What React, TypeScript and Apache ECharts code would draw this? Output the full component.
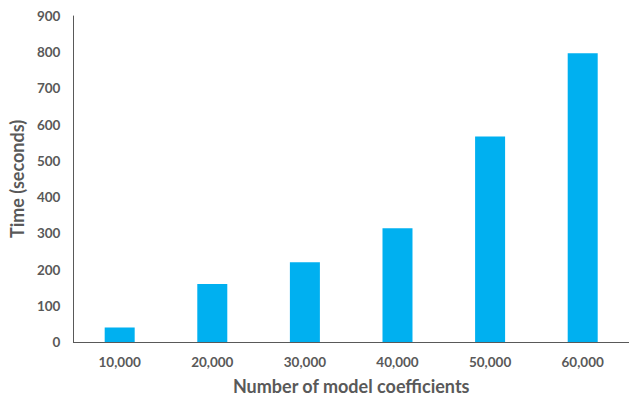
import React, { useEffect, useRef } from "react";
import * as echarts from "echarts";

const categories = ["10,000", "20,000", "30,000", "40,000", "50,000", "60,000"];
const timeSeconds = [40, 160, 220, 314, 567, 797];
const yTicks = { min: 0, max: 900, interval: 100 };

export default function App() {
  const ref = useRef<HTMLDivElement>(null);
  useEffect(() => {
    if (!ref.current) return;
    const chart = echarts.init(ref.current, null, { renderer: "svg" });
    const font = "Lato, 'Open Sans', sans-serif";
    chart.setOption({
      animation: false,
      grid: { left: 68, right: 0, top: 16, bottom: 53, containLabel: false },
      xAxis: {
        type: "category",
        data: categories,
        name: "Number of model coefficients",
        nameLocation: "middle",
        nameGap: 35,
        nameTextStyle: { fontFamily: font, fontSize: 18, fontWeight: "bold", color: "#595959" },
        axisLine: { lineStyle: { color: "#595959", width: 1 } },
        axisTick: { show: false },
        axisLabel: { fontFamily: font, fontSize: 13.5, fontWeight: "bold", color: "#595959", margin: 13 },
      },
      yAxis: {
        type: "value",
        min: yTicks.min,
        max: yTicks.max,
        interval: yTicks.interval,
        name: "Time (seconds)",
        nameLocation: "middle",
        nameGap: 38,
        nameTextStyle: { fontFamily: font, fontSize: 18, fontWeight: "bold", color: "#595959" },
        axisLine: { show: true, lineStyle: { color: "#595959", width: 1 } },
        axisTick: { show: false },
        splitLine: { show: false },
        axisLabel: { fontFamily: font, fontSize: 13.5, fontWeight: "bold", color: "#595959", margin: 13 },
      },
      series: [
        {
          type: "bar",
          data: timeSeconds,
          barWidth: 30,
          itemStyle: { color: "#00B0F0" },
        },
      ],
    });
    return () => chart.dispose();
  }, []);
  return <div ref={ref} style={{ width: 629, height: 400, position: "absolute", left: 0, top: 0 }} />;
}
